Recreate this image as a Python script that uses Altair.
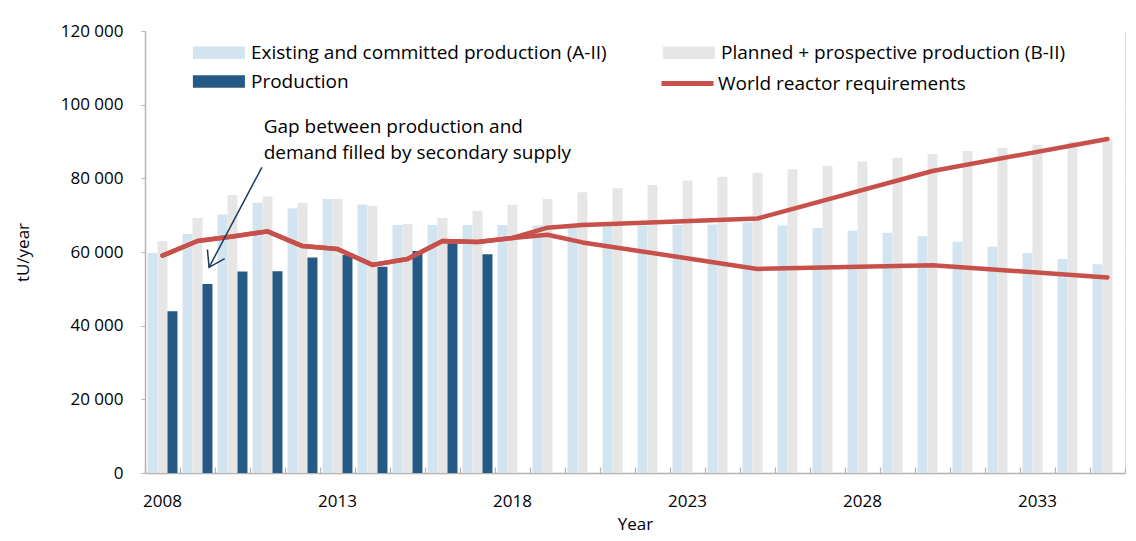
import altair as alt
import pandas as pd

# ---------------- data ----------------
years = list(range(2008, 2036))
existing = [59700, 64900, 70200, 73400, 71900, 74400, 72900, 67300, 67300, 67300,
            67300, 67200, 67200, 67200, 67200, 67300, 67500, 68100, 67200, 66500,
            65800, 65200, 64300, 62800, 61400, 59700, 58100, 56700]
planned = [63000, 69200, 75500, 75100, 73400, 74400, 72500, 67600, 69200, 71100,
           72800, 74400, 76200, 77300, 78200, 79400, 80400, 81500, 82500, 83400,
           84600, 85600, 86600, 87400, 88300, 89100, 90000, 90700]
prod_years = list(range(2008, 2018))
production = [43900, 51300, 54700, 54800, 58500, 59200, 56000, 60300, 62400, 59400]

req_years_hist = list(range(2008, 2019))
req_hist = [59000, 63000, 64200, 65600, 61600, 60800, 56500, 58100, 63000, 62700, 63800]
req_years_proj = [2019, 2020, 2025, 2030, 2035]
req_high = [66600, 67300, 69100, 82000, 90700]
req_low = [64700, 62600, 55400, 56400, 53100]

S_A = "Existing and committed production (A-II)"
S_B = "Planned + prospective production (B-II)"
S_P = "Production"
S_R = "World reactor requirements"
series_names = [S_A, S_B, S_P]
series_colors = ["#d3e4f1", "#e6e6e6", "#255a87"]
line_color = "#c8504a"

ann_lines = ["Gap between production and", "demand filled by secondary supply"]
ann_x = [2010.89, 2010.89]
ann_y = [93860, 86880]
arrow_x = [2010.84]
arrow_y = [83000]
arrow_x2 = [2009.33]
arrow_y2 = [55850]
arrow_angle = [117.8]

y_ticks = [0, 20000, 40000, 60000, 80000, 100000, 120000]
band_edges = [y - 0.5 for y in years] + [years[-1] + 0.5]
FONT = "Open Sans"

# ---------------- tables ----------------
bar_rows = []
for yr, v in zip(years, existing):
    bar_rows.append({"year": yr, "series": S_A, "value": v})
for yr, v in zip(years, planned):
    bar_rows.append({"year": yr, "series": S_B, "value": v})
for yr, v in zip(prod_years, production):
    bar_rows.append({"year": yr, "series": S_P, "value": v})
bars_df = pd.DataFrame(bar_rows)

line_rows = []
for case, proj in (("high", req_high), ("low", req_low)):
    for yr, v in zip(req_years_hist, req_hist):
        line_rows.append({"year": yr, "value": v, "case": case, "name": S_R})
    for yr, v in zip(req_years_proj, proj):
        line_rows.append({"year": yr, "value": v, "case": case, "name": S_R})
lines_df = pd.DataFrame(line_rows)

ann_df = pd.DataFrame({"x": ann_x, "y": ann_y, "text": ann_lines})
arrow_df = pd.DataFrame({"x": arrow_x, "y": arrow_y, "x2": arrow_x2, "y2": arrow_y2,
                         "angle": arrow_angle})

PLOT_W = 980
PLOT_H = 442

# ---------------- scales ----------------
x_scale = alt.Scale(domain=years, paddingInner=0.145, paddingOuter=0.0725)
y_scale = alt.Scale(domain=[0, 120000], nice=False)

x_axis = alt.Axis(
    title="Year", labelAngle=0,
    labelExpr="(datum.value - 2008) % 5 == 0 ? datum.label : ''",
    tickSize=5, tickOpacity=0, domainColor="#b3b3b3",
    domainWidth=1.5, labelFontSize=17, titleFontSize=17, labelPadding=15,
    titlePadding=7, labelFont=FONT, titleFont=FONT, labelColor="black",
    titleColor="black", titleFontWeight="normal", grid=False,
)
y_axis = alt.Axis(
    title="tU/year", values=y_ticks, labelExpr="replace(datum.label, ',', ' ')",
    grid=True, gridColor="white", gridWidth=2, tickSize=4, tickColor="#b3b3b3",
    domainColor="#b3b3b3", domainWidth=1.5, labelFontSize=17, titleFontSize=17,
    labelPadding=18, titlePadding=28, labelFont=FONT, titleFont=FONT,
    labelColor="black", titleColor="black", titleFontWeight="normal",
)
# inward tick marks at the category boundaries (top-oriented axis moved to the bottom)
edge_axis = alt.Axis(
    orient="top", offset=-PLOT_H, values=band_edges, labels=False, domain=False,
    grid=False, title=None, tickSize=6, tickColor="#b3b3b3", tickWidth=1.2,
)

bars = alt.Chart(bars_df).mark_bar().encode(
    x=alt.X("year:O", scale=x_scale, axis=x_axis),
    xOffset=alt.XOffset("series:N", scale=alt.Scale(domain=series_names, paddingInner=0, paddingOuter=0)),
    y=alt.Y("value:Q", scale=y_scale, axis=y_axis),
    color=alt.Color(
        "series:N",
        scale=alt.Scale(domain=series_names, range=series_colors),
        legend=alt.Legend(
            title=None, orient="none", direction="horizontal", legendX=63.4, legendY=11,
            columns=2, columnPadding=55, rowPadding=8, padding=0,
            symbolType="M-2.5,-0.6H2.5V0.6H-2.5Z", symbolSize=433,
            symbolStrokeWidth=0, labelFontSize=19, labelFont=FONT,
            labelColor="black", labelOffset=21.6, labelLimit=700,
        ),
    ),
)

lines = alt.Chart(lines_df).mark_line(strokeWidth=4.5, strokeCap="round", strokeJoin="round").encode(
    x=alt.X("year:O", scale=x_scale, axis=x_axis),
    y=alt.Y("value:Q", scale=y_scale, axis=y_axis),
    detail="case:N",
    order=alt.Order("year:Q"),
    stroke=alt.Stroke(
        "name:N",
        scale=alt.Scale(domain=[S_R], range=[line_color]),
        legend=alt.Legend(
            title=None, orient="none", legendX=514, legendY=24, padding=0,
            symbolType="stroke", symbolSize=2704, symbolStrokeWidth=5,
            labelFontSize=19, labelFont=FONT, labelColor="black",
            labelOffset=2, labelLimit=700,
        ),
    ),
)

qx = alt.Scale(domain=[2007.5, 2035.5], nice=False, zero=False)

ann_text = alt.Chart(ann_df).mark_text(
    align="left", baseline="middle", fontSize=19, font=FONT, color="black"
).encode(
    x=alt.X("x:Q", scale=qx, axis=edge_axis),
    y=alt.Y("y:Q", scale=y_scale, axis=y_axis),
    text="text:N",
)

arrow_line = alt.Chart(arrow_df).mark_rule(color="#1b3a5c", strokeWidth=1.5).encode(
    x=alt.X("x:Q", scale=qx, axis=edge_axis),
    y=alt.Y("y:Q", scale=y_scale, axis=y_axis),
    x2="x2:Q", y2="y2:Q",
)

arrow_head = alt.Chart(arrow_df).mark_point(
    shape="M-1,-0.65L0,0L-1,0.65", filled=False, color="#1b3a5c", strokeWidth=1.5,
    size=900, opacity=1,
).encode(
    x=alt.X("x2:Q", scale=qx, axis=edge_axis),
    y=alt.Y("y2:Q", scale=y_scale, axis=y_axis),
    angle=alt.Angle("angle:Q", scale=None),
)

main = alt.layer(bars, lines)
annot = alt.layer(ann_text, arrow_line, arrow_head)

chart = alt.layer(main, annot).resolve_scale(x="independent").properties(
    width=PLOT_W, height=PLOT_H,
    padding={"left": 6, "top": 14, "right": 0, "bottom": 5},
).configure_view(fill="#f8f8f8", stroke=None).configure(background="white")

chart.save("out.html", embed_options={"renderer": "svg", "actions": False})
